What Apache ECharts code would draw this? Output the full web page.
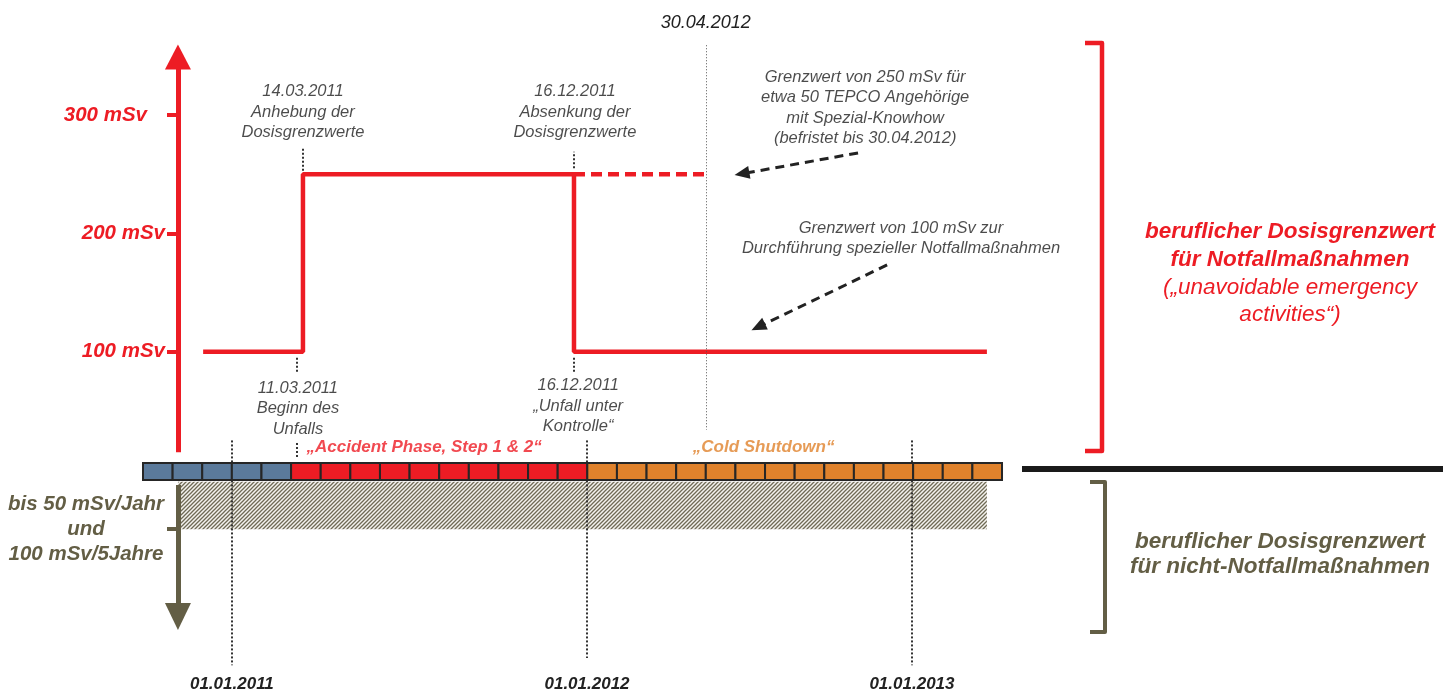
<!DOCTYPE html>
<html>
<head>
<meta charset="utf-8">
<script src="https://cdn.jsdelivr.net/npm/echarts@6/dist/echarts.min.js"></script>
<style>
html, body { margin: 0; padding: 0; background: #fff; }
#chart { width: 1443px; height: 690px; }
</style>
</head>
<body>
<div id="chart"></div>
<script>
// x = months counted from 01.10.2010 (one block per month), y = mSv
const monthPhases = [
    'pre', 'pre', 'pre', 'pre', 'pre',
    'acc', 'acc', 'acc', 'acc', 'acc', 'acc', 'acc', 'acc', 'acc', 'acc',
    'cold', 'cold', 'cold', 'cold', 'cold', 'cold', 'cold', 'cold', 'cold', 'cold', 'cold', 'cold', 'cold', 'cold'
];
const phaseColors = { pre: '#5b7a9b', acc: '#ed1c24', cold: '#e0822c' };

// Grenzwert fuer Notfallmassnahmen (step line)
const limitX = [2.03, 5.40, 14.55, 28.49];
const limitY = [100, 250, 100, 100];
// 250 mSv fuer TEPCO-Spezialisten bis 30.04.2012
const specialX = [14.55, 19.0];
const specialY = [250, 250];
// nicht-Notfall band (bis 50 mSv/Jahr)
const bandX = [1.18, 28.49];
const bandY = [-10, -50];

const doseTicks = [100, 200, 300];
const normalTicks = [-50];

const yearLabels = ['01.01.2011', '01.01.2012', '01.01.2013'];
const yearX = [3.0, 14.99, 25.96];

const noteX = [5.40, 14.58, 5.23, 14.69, 24.38, 25.59];
const noteY = [302.6, 302.6, 52, 54, 306, 195.7];
const noteText = [
    '14.03.2011\nAnhebung der\nDosisgrenzwerte',
    '16.12.2011\nAbsenkung der\nDosisgrenzwerte',
    '11.03.2011\nBeginn des\nUnfalls',
    '16.12.2011\n\u201eUnfall unter\nKontrolle\u201c',
    'Grenzwert von 250 mSv f\u00fcr\netwa 50 TEPCO Angeh\u00f6rige\nmit Spezial-Knowhow\n(befristet bis 30.04.2012)',
    'Grenzwert von 100 mSv zur\nDurchf\u00fchrung spezieller Notfallma\u00dfnahmen'
];

const phaseLabelX = [9.49, 20.95];
const phaseLabelY = [19.4, 19.4];
const phaseLabelText = ['\u201eAccident Phase, Step 1 & 2\u201c', '\u201eCold Shutdown\u201c'];
const phaseLabelColor = ['#ed1c24', '#e0822c'];

const RED = '#ed1c24';
const OLIVE = '#635e45';
const FONT = '"Liberation Sans", Arial, sans-serif';

// diagonal hatch pattern
const hatch = document.createElement('canvas');
hatch.width = 4;
hatch.height = 4;
const hctx = hatch.getContext('2d');
hctx.fillStyle = '#f4f3ee';
hctx.fillRect(0, 0, 4, 4);
hctx.strokeStyle = '#6f6a55';
hctx.lineWidth = 1.3;
hctx.beginPath();
hctx.moveTo(0, 4); hctx.lineTo(4, 0);
hctx.moveTo(-1, 1); hctx.lineTo(1, -1);
hctx.moveTo(3, 5); hctx.lineTo(5, 3);
hctx.stroke();

const dotted = { type: 'dotted', color: '#333', width: 2 };
const vline = (x, y1, y2, style) => [
    { coord: [x, y1], symbol: 'none', lineStyle: style },
    { coord: [x, y2], symbol: 'none' }
];

var chartDom = document.getElementById('chart');
var myChart = echarts.init(chartDom);
const option = {
    animation: false,
    grid: { left: 143, right: 2.6, top: 14.5, bottom: 16.5, outerBoundsMode: 'none', containLabel: false },
    xAxis: {
        type: 'value',
        min: 0,
        max: 43.8,
        axisLine: { show: false },
        axisTick: { show: false },
        splitLine: { show: false },
        axisLabel: {
            customValues: yearX,
            margin: 2,
            formatter: v => yearLabels[yearX.indexOf(v)],
            color: '#222',
            fontFamily: FONT,
            fontWeight: 'bold',
            fontStyle: 'italic',
            fontSize: 17
        }
    },
    yAxis: [
        {
            type: 'value',
            min: -172,
            max: 385,
            position: 'left',
            offset: -35,
            splitLine: { show: false },
            axisLine: { show: false },
            axisTick: { show: true, customValues: doseTicks, length: 11, lineStyle: { color: RED, width: 4 } },
            axisLabel: {
                customValues: doseTicks,
                margin: 13,
                formatter: v => v === 300 ? '{far|300 mSv}' : '{lbl|' + v + ' mSv}',
                rich: {
                    lbl: { color: RED, fontFamily: FONT, fontWeight: 'bold', fontStyle: 'italic', fontSize: 20.5 },
                    far: { color: RED, fontFamily: FONT, fontWeight: 'bold', fontStyle: 'italic', fontSize: 20.5, padding: [0, 18, 0, 0] }
                }
            }
        },
        {
            type: 'value',
            min: -172,
            max: 385,
            position: 'left',
            offset: -35,
            splitLine: { show: false },
            axisLine: { show: false },
            axisTick: { show: true, customValues: normalTicks, length: 11, lineStyle: { color: OLIVE, width: 4 } },
            axisLabel: {
                customValues: normalTicks,
                margin: 13,
                formatter: () => '{o|bis 50 mSv/Jahr}\n{o|und}\n{o|100 mSv/5Jahre}',
                rich: {
                    o: { width: 158, align: 'center', color: OLIVE, fontFamily: FONT, fontWeight: 'bold', fontStyle: 'italic', fontSize: 20.5, lineHeight: 25 }
                }
            }
        }
    ],
    series: [
        {
            name: 'band',
            type: 'custom',
            z: 4,
            silent: true,
            data: [[bandX[0], bandY[0], bandX[1], bandY[1]]],
            encode: { x: [0, 2], y: [1, 3] },
            renderItem: (params, api) => {
                const a = api.coord([api.value(0), api.value(1)]);
                const b = api.coord([api.value(2), api.value(3)]);
                return {
                    type: 'rect',
                    shape: { x: a[0], y: a[1], width: b[0] - a[0], height: b[1] - a[1] },
                    style: { fill: { image: hatch, repeat: 'repeat' } }
                };
            }
        },
        {
            name: 'months',
            type: 'custom',
            z: 5,
            silent: true,
            data: monthPhases.map((p, i) => [i, 0]),
            encode: { x: 0, y: 1 },
            renderItem: (params, api) => {
                const i = api.value(0);
                const a = api.coord([i, 0]);
                const b = api.coord([i + 1, 0]);
                return {
                    type: 'rect',
                    shape: { x: a[0], y: a[1] - 7, width: b[0] - a[0], height: 17 },
                    style: { fill: phaseColors[monthPhases[i]], stroke: '#262626', lineWidth: 2 }
                };
            }
        },
        {
            name: 'Notfall',
            type: 'line',
            z: 3,
            step: 'end',
            symbol: 'none',
            data: limitX.map((x, i) => [x, limitY[i]]),
            lineStyle: { color: RED, width: 4.5, cap: 'butt' },
            markLine: {
                silent: true,
                label: { show: false },
                data: [
                    // axes
                    [
                        { coord: [1.18, 15], symbol: 'none', lineStyle: { type: 'solid', color: RED, width: 5 } },
                        { coord: [1.18, 349], symbol: 'triangle', symbolSize: [26, 25] }
                    ],
                    [
                        { coord: [1.18, -12.7], symbol: 'none', lineStyle: { type: 'solid', color: OLIVE, width: 5 } },
                        { coord: [1.18, -123.8], symbol: 'triangle', symbolSize: [26, 27] }
                    ],
                    // event marks
                    vline(5.40, 253, 273, dotted),
                    vline(14.55, 255, 269, dotted),
                    vline(5.20, 83, 95, dotted),
                    vline(14.55, 83, 95, dotted),
                    vline(5.20, 11, 24, dotted),
                    // years
                    vline(yearX[0], 25, -165, dotted),
                    vline(yearX[1], 25, -159, dotted),
                    vline(yearX[2], 25, -165, dotted)
                ]
            }
        },
        {
            name: 'Spezial',
            type: 'line',
            z: 3,
            symbol: 'none',
            data: specialX.map((x, i) => [x, specialY[i]]),
            lineStyle: { color: RED, width: 4.5, type: [11, 6], cap: 'butt' },
            markLine: {
                silent: true,
                label: { show: false },
                data: [
                    [
                        {
                            coord: [19.0, 359], symbol: 'none',
                            lineStyle: { type: [1, 2], color: '#555', width: 1 },
                            label: {
                                show: true, position: 'start', distance: 13,
                                formatter: '30.04.2012',
                                color: '#222', fontFamily: FONT, fontStyle: 'italic', fontSize: 18
                            }
                        },
                        { coord: [19.0, 34], symbol: 'none' }
                    ],
                    [
                        { coord: [24.14, 268], symbol: 'none', lineStyle: { type: [9, 6], color: '#222', width: 3 } },
                        { coord: [20.22, 250.4], symbol: 'triangle', symbolSize: [13, 15] }
                    ],
                    [
                        { coord: [25.12, 173.3], symbol: 'none', lineStyle: { type: [9, 6], color: '#222', width: 3 } },
                        { coord: [20.77, 120.9], symbol: 'triangle', symbolSize: [13, 15] }
                    ]
                ]
            }
        },
        {
            name: 'notes',
            type: 'scatter',
            z: 6,
            silent: true,
            symbolSize: 0,
            data: noteX.map((x, i) => ({ value: [x, noteY[i]], name: noteText[i] }))
                .concat(phaseLabelX.map((x, i) => ({
                    value: [x, phaseLabelY[i]],
                    name: phaseLabelText[i],
                    label: { color: phaseLabelColor[i], fontWeight: 'bold', fontSize: 17 }
                }))),
            label: {
                show: true,
                position: 'inside',
                formatter: p => p.name,
                align: 'center',
                verticalAlign: 'middle',
                color: '#1e1e1e',
                fontFamily: FONT,
                fontStyle: 'italic',
                fontSize: 16.5,
                lineHeight: 20.5
            }
        }
    ],
    graphic: [
        {
            type: 'polyline',
            shape: { points: [[1085, 43], [1102, 43], [1102, 451], [1085, 451]] },
            style: { stroke: RED, lineWidth: 4.5, fill: null, lineJoin: 'round' }
        },
        {
            type: 'polyline',
            shape: { points: [[1090, 482], [1105, 482], [1105, 632], [1090, 632]] },
            style: { stroke: OLIVE, lineWidth: 4, fill: null, lineJoin: 'round' }
        },
        {
            type: 'rect',
            shape: { x: 1022, y: 466, width: 421, height: 6 },
            style: { fill: '#1a1a1a' }
        },
        {
            type: 'text',
            x: 1290,
            y: 273.5,
            style: {
                text: '{b|beruflicher Dosisgrenzwert}\n{b|f\u00fcr Notfallma\u00dfnahmen}\n{n|(\u201eunavoidable emergency}\n{n|activities\u201c)}',
                align: 'center',
                verticalAlign: 'middle',
                rich: {
                    b: { fill: RED, fontFamily: FONT, fontWeight: 'bold', fontStyle: 'italic', fontSize: 22.5, lineHeight: 27.5, align: 'center' },
                    n: { fill: RED, fontFamily: FONT, fontStyle: 'italic', fontSize: 22.5, lineHeight: 27.5, align: 'center' }
                }
            }
        },
        {
            type: 'text',
            x: 1280,
            y: 554,
            style: {
                text: 'beruflicher Dosisgrenzwert\nf\u00fcr nicht-Notfallma\u00dfnahmen',
                align: 'center',
                verticalAlign: 'middle',
                fill: OLIVE,
                fontFamily: FONT,
                fontWeight: 'bold',
                fontStyle: 'italic',
                fontSize: 22.5,
                lineHeight: 25
            }
        }
    ]
};
myChart.setOption(option);
</script>
</body>
</html>
